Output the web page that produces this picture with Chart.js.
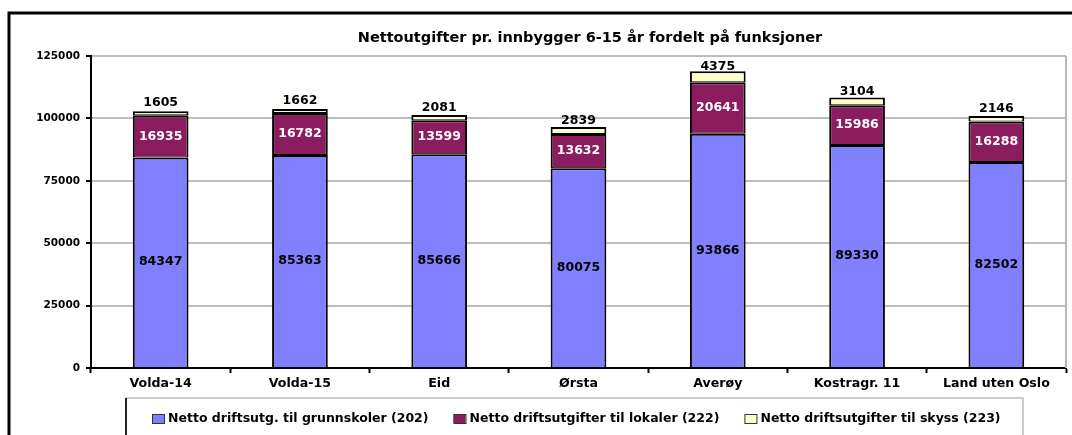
<!DOCTYPE html>
<html>
<head>
<meta charset="utf-8">
<script src="https://cdn.jsdelivr.net/npm/chart.js@4"></script>
<style>
  html, body { margin: 0; padding: 0; background: #fff; }
  canvas { display: block; }
</style>
</head>
<body>
<canvas id="c" width="1072" height="435"></canvas>
<script>
const categories = ["Volda-14", "Volda-15", "Eid", "Ørsta", "Averøy", "Kostragr. 11", "Land uten Oslo"];
const grunnskoler = [84347, 85363, 85666, 80075, 93866, 89330, 82502];
const lokaler = [16935, 16782, 13599, 13632, 20641, 15986, 16288];
const skyss = [1605, 1662, 2081, 2839, 4375, 3104, 2146];
const seriesNames = [
  "Netto driftsutg. til grunnskoler (202)",
  "Netto driftsutgifter til lokaler (222)",
  "Netto driftsutgifter til skyss (223)"
];
const yTicks = [0, 25000, 50000, 75000, 100000, 125000];
const titleText = "Nettoutgifter pr. innbygger 6-15 år fordelt på funksjoner";

const colors = ["#8080FF", "#8B1D5E", "#FFFFCC"];
const labelColors = ["#000000", "#FFFFFF", "#000000"];
const borderWidths = [
  { top: 2, bottom: 0, left: 2, right: 2 },
  { top: 2, bottom: 1, left: 2, right: 2 },
  { top: 2, bottom: 1, left: 2, right: 2 }
];
const FONT = "'DejaVu Sans', Verdana, sans-serif";

const framePlugin = {
  id: 'frame',
  beforeDraw(chart) {
    const ctx = chart.ctx;
    ctx.save();
    ctx.fillStyle = '#fff';
    ctx.fillRect(0, 0, chart.width, chart.height);
    ctx.strokeStyle = '#000';
    ctx.lineWidth = 3;
    ctx.beginPath();
    ctx.moveTo(9, chart.height + 5);
    ctx.lineTo(9, 13);
    ctx.lineTo(chart.width + 5, 13);
    ctx.stroke();
    // title
    ctx.fillStyle = '#000';
    ctx.font = "bold 14.5px " + FONT;
    ctx.textAlign = 'center';
    ctx.textBaseline = 'middle';
    ctx.fillText(titleText, 590, 38);
    ctx.restore();
  },
  afterDraw(chart) {
    const ctx = chart.ctx;
    const a = chart.chartArea;
    ctx.save();
    // plot area right border
    ctx.strokeStyle = '#b8b8b8';
    ctx.lineWidth = 2;
    ctx.beginPath();
    ctx.moveTo(a.right, a.top);
    ctx.lineTo(a.right, a.bottom);
    ctx.stroke();
    // legend box
    const lx = 126, ly = 398, lr = 1023, lb = chart.height + 10;
    ctx.strokeStyle = '#bdbdbd';
    ctx.lineWidth = 1.5;
    ctx.beginPath();
    ctx.moveTo(lx, ly);
    ctx.lineTo(lr, ly);
    ctx.lineTo(lr, lb);
    ctx.stroke();
    ctx.strokeStyle = '#222';
    ctx.lineWidth = 2;
    ctx.beginPath();
    ctx.moveTo(lx, ly);
    ctx.lineTo(lx, lb);
    ctx.stroke();
    // legend items
    ctx.font = "bold 12.5px " + FONT;
    ctx.textAlign = 'left';
    ctx.textBaseline = 'middle';
    let x = 152;
    const y = 419;
    seriesNames.forEach((name, i) => {
      ctx.fillStyle = colors[i];
      ctx.fillRect(x, y - 5, 12, 9);
      ctx.strokeStyle = '#333';
      ctx.lineWidth = 1;
      ctx.strokeRect(x + 0.5, y - 4.5, 12, 9);
      ctx.fillStyle = '#000';
      ctx.fillText(name, x + 16, y);
      x += 16 + ctx.measureText(name).width + 25;
    });
    ctx.restore();
  },
  afterDatasetsDraw(chart) {
    const ctx = chart.ctx;
    ctx.save();
    ctx.font = "bold 12.5px " + FONT;
    ctx.textAlign = 'center';
    ctx.textBaseline = 'middle';
    chart.data.datasets.forEach((ds, i) => {
      const meta = chart.getDatasetMeta(i);
      meta.data.forEach((bar, j) => {
        const cy = (bar.y + bar.base) / 2 + (i === 2 ? -10 : 0);
        ctx.fillStyle = labelColors[i];
        ctx.fillText(String(ds.data[j]), bar.x, cy);
      });
    });
    ctx.restore();
  }
};

const mk = (label, data, i) => ({
  label, data,
  backgroundColor: colors[i],
  borderColor: '#000',
  borderWidth: borderWidths[i],
  borderSkipped: false,
  inflateAmount: 0,
  barPercentage: 0.4,
  categoryPercentage: 1.0
});

new Chart(document.getElementById('c'), {
  type: 'bar',
  data: {
    labels: categories,
    datasets: [
      mk(seriesNames[0], grunnskoler, 0),
      mk(seriesNames[1], lokaler, 1),
      mk(seriesNames[2], skyss, 2)
    ]
  },
  options: {
    responsive: false,
    animation: false,
    devicePixelRatio: 1,
    layout: { padding: { top: 56, right: 6, left: 0, bottom: 0 } },
    plugins: {
      legend: { display: false },
      title: { display: false },
      tooltip: { enabled: false }
    },
    scales: {
      x: {
        stacked: true,
        grid: { offset: true, drawOnChartArea: false, drawTicks: true, tickLength: 5, tickColor: '#000', tickWidth: 2 },
        border: { color: '#000', width: 2 },
        ticks: { color: '#000', font: { family: FONT, size: 12.6, weight: 'bold' }, padding: 3, maxRotation: 0 },
        afterFit(s) { s.height = 67; }
      },
      y: {
        stacked: true,
        min: 0,
        max: 125000,
        afterBuildTicks(s) { s.ticks = yTicks.map(v => ({ value: v })); },
        grid: { color: '#bdbdbd', lineWidth: 2, tickLength: 5, tickColor: '#000', tickWidth: 2 },
        border: { color: '#000', width: 2 },
        ticks: { color: '#000', font: { family: FONT, size: 10.5, weight: 'bold' }, padding: 6, callback: v => String(v) },
        afterFit(s) { s.width = 91; }
      }
    }
  },
  plugins: [framePlugin]
});
</script>
</body>
</html>
